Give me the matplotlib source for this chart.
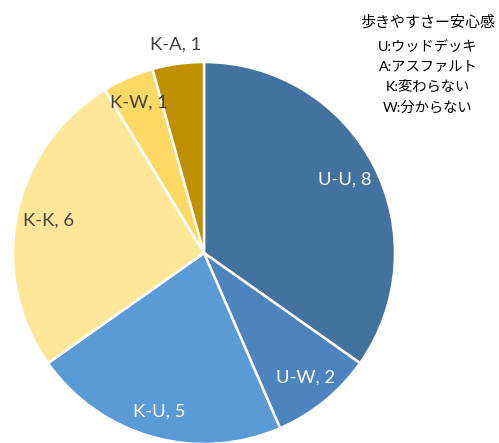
import numpy as np
import matplotlib
matplotlib.use("Agg")
import matplotlib.pyplot as plt

plt.rcParams['font.family'] = ['Lato', 'Noto Sans CJK JP', 'DejaVu Sans']

categories = ['U-U', 'U-W', 'K-U', 'K-K', 'K-W', 'K-A']
values = [8, 2, 5, 6, 1, 1]
colors = ['#43729E', '#4D84BE', '#5B9BD5', '#FFE699', '#FFD966', '#BF9000']
label_colors = ['white', 'white', 'white', '#404040', '#404040', '#404040']
label_dist = [0.83, 0.84, 0.86, 0.83, 0.86, 1.10]
legend_title = '歩きやすさー安心感'
legend_lines = ['U:ウッドデッキ', 'A:アスファルト', 'K:変わらない', 'W:分からない']

fig = plt.figure(figsize=(4.99, 4.43), dpi=100)
ax = fig.add_axes([13 / 499, -1 / 443, 382 / 499, 382 / 443])

wedges, _ = ax.pie(values, colors=colors, startangle=90, counterclock=False,
                   wedgeprops=dict(edgecolor='white', linewidth=1.8))

for w, cat, v, c, d in zip(wedges, categories, values, label_colors, label_dist):
    mid = np.deg2rad((w.theta1 + w.theta2) / 2)
    ax.text(d * np.cos(mid), d * np.sin(mid), f'{cat}, {v}', color=c,
            fontsize=13.3, ha='center', va='center')

ax.set_xlim(-1, 1)
ax.set_ylim(-1, 1)
ax.set_aspect('equal')
ax.axis('off')

# text block top right
fig.text(428 / 499, 1 - 22 / 443, legend_title, ha='center', va='center',
         fontsize=10.8, color='black')
for i, line in enumerate(legend_lines):
    fig.text(428 / 499, 1 - (46 + i * 20.3) / 443, line, ha='center', va='center',
             fontsize=10.3, color='black')

fig.savefig('out.png', dpi=100)
